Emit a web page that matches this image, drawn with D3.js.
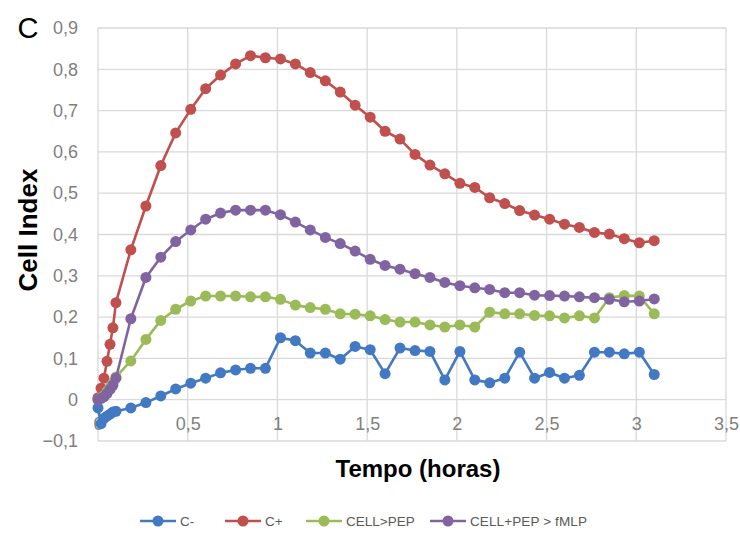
<!DOCTYPE html>
<html>
<head>
<meta charset="utf-8">
<script src="https://cdn.jsdelivr.net/npm/d3@7"></script>
<style>
  body { margin: 0; background: #fff; }
  svg { display: block; font-family: "Liberation Sans", Arial, sans-serif; }
</style>
</head>
<body>
<svg></svg>
<script>
const svgWidth = 740;
const svgHeight = 534;

// tempo (horas)
const tempo = [0, 0.017, 0.033, 0.05, 0.067, 0.083, 0.1,
  0.183, 0.267, 0.35, 0.433, 0.517, 0.6, 0.683, 0.767, 0.85, 0.933,
  1.017, 1.1, 1.183, 1.267, 1.35, 1.433, 1.517, 1.6, 1.683, 1.767,
  1.85, 1.933, 2.017, 2.1, 2.183, 2.267, 2.35, 2.433, 2.517, 2.6,
  2.683, 2.767, 2.85, 2.933, 3.017, 3.1];

const cNeg = [-0.02, -0.058, -0.045, -0.04, -0.035, -0.03, -0.028,
  -0.02, -0.007, 0.009, 0.026, 0.040, 0.052, 0.065, 0.072, 0.076, 0.076,
  0.150, 0.143, 0.113, 0.113, 0.098, 0.129, 0.121, 0.063, 0.125, 0.119,
  0.117, 0.048, 0.117, 0.048, 0.041, 0.052, 0.115, 0.052, 0.066, 0.052,
  0.059, 0.115, 0.115, 0.111, 0.115, 0.061];

const cPos = [0.005, 0.028, 0.052, 0.093, 0.134, 0.174, 0.235,
  0.363, 0.469, 0.567, 0.646, 0.703, 0.753, 0.786, 0.813, 0.833, 0.828,
  0.825, 0.813, 0.792, 0.772, 0.745, 0.713, 0.684, 0.650, 0.631, 0.594,
  0.568, 0.547, 0.524, 0.514, 0.489, 0.475, 0.458, 0.447, 0.437, 0.425,
  0.417, 0.405, 0.401, 0.390, 0.380, 0.385];

const cellPep = [0, 0.005, 0.01, 0.02, 0.03, 0.04, 0.055,
  0.094, 0.146, 0.192, 0.219, 0.239, 0.251, 0.251, 0.251, 0.249, 0.249,
  0.243, 0.229, 0.223, 0.219, 0.208, 0.207, 0.203, 0.194, 0.188, 0.188,
  0.181, 0.176, 0.181, 0.176, 0.212, 0.208, 0.208, 0.204, 0.203, 0.198,
  0.203, 0.198, 0.247, 0.252, 0.251, 0.208];

const cellPepFmlp = [0, 0.003, 0.007, 0.015, 0.025, 0.035, 0.052,
  0.196, 0.296, 0.345, 0.383, 0.411, 0.437, 0.452, 0.459, 0.459, 0.459,
  0.448, 0.43, 0.411, 0.393, 0.378, 0.36, 0.34, 0.325, 0.316, 0.305,
  0.296, 0.284, 0.276, 0.271, 0.267, 0.259, 0.259, 0.253, 0.252, 0.251,
  0.249, 0.247, 0.243, 0.237, 0.239, 0.244];

const seriesNames = ["C-", "C+", "CELL>PEP", "CELL+PEP > fMLP"];
const seriesColors = ["#4279c2", "#c0504d", "#9bbb59", "#8064a2"];
const seriesValues = [cNeg, cPos, cellPep, cellPepFmlp];

const xTicks = [0, 0.5, 1, 1.5, 2, 2.5, 3, 3.5];
const yTicks = [-0.1, 0, 0.1, 0.2, 0.3, 0.4, 0.5, 0.6, 0.7, 0.8, 0.9];

const fmt = v => d3.format(".1~f")(v).replace(".", ",");

let svg = d3.select("svg")
  .attr("width", svgWidth)
  .attr("height", svgHeight);

let x = d3.scaleLinear().domain([0, 3.5]).range([98, 726]);
let y = d3.scaleLinear().domain([-0.1, 0.9]).range([441, 28]);

// grid
svg.append("g")
  .selectAll("line.h")
  .data(yTicks)
  .join("line")
  .attr("x1", x(0)).attr("x2", x(3.5))
  .attr("y1", d => y(d)).attr("y2", d => y(d))
  .attr("stroke", "#d9d9d9").attr("stroke-width", 1.3);

svg.append("g")
  .selectAll("line.v")
  .data(xTicks)
  .join("line")
  .attr("y1", y(-0.1)).attr("y2", y(0.9))
  .attr("x1", d => x(d)).attr("x2", d => x(d))
  .attr("stroke", "#d9d9d9").attr("stroke-width", 1.3);

// tick labels
let yAxis = svg.append("g")
  .attr("transform", `translate(${x(0) - 14},0)`)
  .call(d3.axisLeft(y).tickValues(yTicks).tickFormat(fmt).tickSize(0).tickPadding(6));
yAxis.select(".domain").remove();
yAxis.selectAll("text")
  .attr("fill", "#7f7f7f")
  .style("font-size", "18px");

let xAxis = svg.append("g")
  .attr("transform", `translate(0,${y(0) + 18})`)
  .call(d3.axisBottom(x).tickValues(xTicks).tickFormat(fmt).tickSize(0).tickPadding(0));
xAxis.select(".domain").remove();
xAxis.selectAll("text")
  .attr("fill", "#7f7f7f")
  .style("font-size", "18px");

// series
let line = d3.line()
  .x((d, i) => x(tempo[i]))
  .y(d => y(d));

seriesValues.forEach(function (vals, s) {
  let g = svg.append("g");
  g.append("path")
    .attr("d", line(vals))
    .attr("fill", "none")
    .attr("stroke", seriesColors[s])
    .attr("stroke-width", 2.6)
    .attr("stroke-linejoin", "round");
  g.selectAll("circle")
    .data(vals)
    .join("circle")
    .attr("cx", (d, i) => x(tempo[i]))
    .attr("cy", d => y(d))
    .attr("r", 5.5)
    .attr("fill", seriesColors[s]);
});

// titles
svg.append("text")
  .attr("x", 28).attr("y", 38)
  .attr("text-anchor", "middle")
  .style("font-size", "29px")
  .text("C");

svg.append("text")
  .attr("x", 418).attr("y", 477)
  .attr("text-anchor", "middle")
  .style("font-size", "24px")
  .style("font-weight", "bold")
  .text("Tempo (horas)");

svg.append("text")
  .attr("transform", "translate(37,230) rotate(-90)")
  .attr("text-anchor", "middle")
  .style("font-size", "26px")
  .style("font-weight", "bold")
  .text("Cell Index");

// legend
const legendX = [140, 225, 306, 430];
let legend = svg.append("g");
seriesNames.forEach(function (name, s) {
  let lx = legendX[s];
  legend.append("line")
    .attr("x1", lx).attr("x2", lx + 36)
    .attr("y1", 521).attr("y2", 521)
    .attr("stroke", seriesColors[s]).attr("stroke-width", 2.6);
  legend.append("circle")
    .attr("cx", lx + 18).attr("cy", 521).attr("r", 5.5)
    .attr("fill", seriesColors[s]);
  legend.append("text")
    .attr("x", lx + 40).attr("y", 526)
    .attr("fill", "#595959")
    .style("font-size", "13.5px")
    .attr("textLength", name.length > 8 ? 117 : null)
    .text(name);
});
</script>
</body>
</html>
